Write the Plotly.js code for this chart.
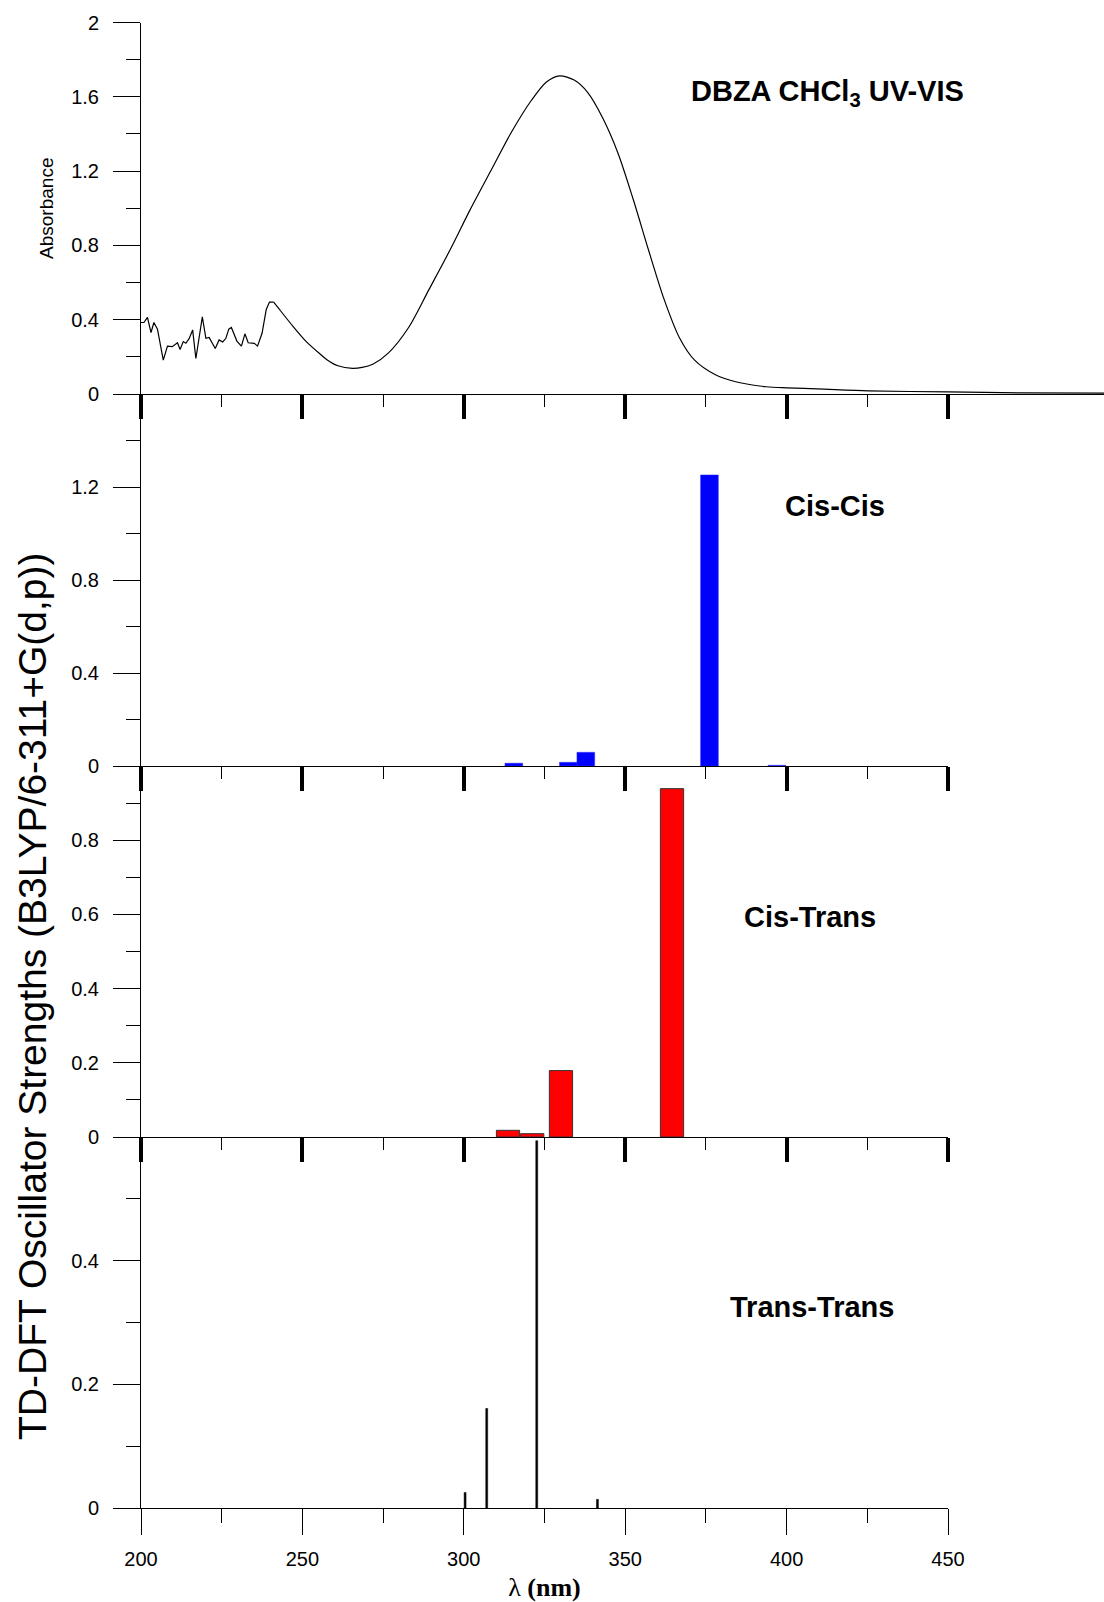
<!DOCTYPE html>
<html>
<head>
<meta charset="utf-8">
<script src="https://cdn.plot.ly/plotly-3.0.1.min.js"></script>
<style>html,body{margin:0;padding:0;background:#fff;}#chart{width:1104px;height:1602px;}</style>
</head>
<body>
<div id="chart"></div>
<script>
// UV-VIS absorbance spectrum (DBZA in CHCl3)
const uvWavelength = [200,200.9,202,203.1,204,205.1,206.9,208.2,209.7,211.3,212.1,213.1,213.9,214.9,216,217,219,220.1,221.1,223,224.2,225.3,226.3,227.2,228,229.7,231.1,232.2,233.2,235.1,236.1,237.5,238.8,239.8,241.1,242.9,247.1,251.2,255.3,257.6,261,265.5,268.5,271.8,276.6,282.9,289.2,295.6,301.9,308.2,314.6,320.9,325.6,329.7,334.2,338.3,343,347.8,352.5,357.3,362,366.8,371.5,377.8,384.2,393.7,400,409.5,425.3,450,472.8,498.4];
const uvAbsorbance = [0.385,0.385,0.413,0.331,0.385,0.349,0.182,0.258,0.255,0.276,0.24,0.282,0.273,0.298,0.345,0.191,0.415,0.3,0.305,0.245,0.291,0.28,0.3,0.349,0.358,0.285,0.258,0.324,0.276,0.273,0.258,0.327,0.455,0.495,0.495,0.455,0.364,0.282,0.218,0.185,0.152,0.138,0.143,0.16,0.22,0.358,0.562,0.771,0.99,1.196,1.405,1.58,1.68,1.713,1.69,1.625,1.487,1.295,1.047,0.771,0.512,0.303,0.182,0.105,0.066,0.039,0.033,0.028,0.017,0.011,0.006,0.005];

// TD-DFT oscillator strengths
const cisCisWavelength = [315.5,332.4,337.8,376.1,397];
const cisCisStrength   = [0.012,0.016,0.059,1.252,0.003];
const cisTransWavelength = [313.7,321.2,330.1,364.5];
const cisTransStrength   = [0.018,0.009,0.179,0.939];
const transTransWavelength = [300.4,307.1,322.6,341.4];
const transTransStrength   = [0.025,0.161,0.594,0.014];

// tick labels
const xTickVals = [200,250,300,350,400,450];
const xMinorVals = [225,275,325,375,425];
const absTickVals = [0,0.4,0.8,1.2,1.6,2];
const absTickText = ['0','0.4','0.8','1.2','1.6','2'];
const absMinorVals = [0.2,0.6,1.0,1.4,1.8];
const ccTickVals = [0,0.4,0.8,1.2];
const ccTickText = ['0','0.4','0.8','1.2'];
const ccMinorVals = [0.2,0.6,1.0,1.4];
const ctTickVals = [0,0.2,0.4,0.6,0.8];
const ctTickText = ['0','0.2','0.4','0.6','0.8'];
const ctMinorVals = [0.1,0.3,0.5,0.7,0.9];
const ttTickVals = [0,0.2,0.4];
const ttTickText = ['0','0.2','0.4'];
const ttMinorVals = [0.1,0.3,0.5];

const FONT = 'Liberation Sans, Arial, sans-serif';
const W = 1104, H = 1602;
const px = v => v / W;
const py = v => 1 - v / H;

// noisy short-wavelength part drawn as straight segments, the rest smoothed
const split = uvWavelength.indexOf(241.1);

const traces = [
  {x: uvWavelength.slice(0, split + 1), y: uvAbsorbance.slice(0, split + 1), type: 'scatter', mode: 'lines',
   line: {color: '#000', width: 1.2}, xaxis: 'x4', yaxis: 'y'},
  {x: uvWavelength.slice(split), y: uvAbsorbance.slice(split), type: 'scatter', mode: 'lines',
   line: {color: '#000', width: 1.2, shape: 'spline', smoothing: 0.8}, xaxis: 'x4', yaxis: 'y'},
  {x: cisCisWavelength, y: cisCisStrength, type: 'bar', width: 5.5,
   marker: {color: '#0000ff', line: {color: '#3030ff', width: 0.5}}, xaxis: 'x3', yaxis: 'y2'},
  {x: cisTransWavelength, y: cisTransStrength, type: 'bar', width: 7.2,
   marker: {color: '#ff0000', line: {color: '#333', width: 1}}, xaxis: 'x2', yaxis: 'y3'},
  {x: transTransWavelength, y: transTransStrength, type: 'bar', width: 0.6,
   marker: {color: '#000', line: {color: '#000', width: 0.5}}, xaxis: 'x', yaxis: 'y4'}
];

const xMid = {
  range: [200, 450], domain: [px(141), px(948)], showgrid: false, zeroline: false,
  showline: true, linecolor: '#000', linewidth: 1,
  tickmode: 'array', tickvals: xTickVals, ticks: 'outside', ticklen: 24, tickwidth: 4, tickcolor: '#000',
  showticklabels: false,
  minor: {tickmode: 'array', tickvals: xMinorVals, ticks: 'outside', ticklen: 12, tickwidth: 1, tickcolor: '#000'}
};

function yAx(domain, range, tv, tt, mv) {
  return {
    domain: domain, range: range, showgrid: false, zeroline: false,
    showline: true, linecolor: '#000', linewidth: 1,
    tickmode: 'array', tickvals: tv, ticktext: tt,
    ticks: 'outside', ticklen: 27, tickwidth: 1, tickcolor: '#000',
    tickfont: {family: FONT, size: 20, color: '#000'}, ticklabelstandoff: 10,
    minor: {tickmode: 'array', tickvals: mv, ticks: 'outside', ticklen: 14, tickwidth: 1, tickcolor: '#000'}
  };
}

const annFont = {family: FONT, size: 29, color: '#000'};

const layout = {
  width: W, height: H, margin: {l: 0, r: 0, t: 0, b: 0},
  paper_bgcolor: '#fff', plot_bgcolor: 'rgba(0,0,0,0)', showlegend: false,
  font: {family: FONT, color: '#000'},
  xaxis: {
    range: [200, 450], domain: [px(141), px(948)], anchor: 'y4', showgrid: false, zeroline: false,
    showline: true, linecolor: '#000', linewidth: 1,
    tickmode: 'array', tickvals: xTickVals, ticks: 'outside', ticklen: 26, tickwidth: 1, tickcolor: '#000',
    tickfont: {family: FONT, size: 20, color: '#000'}, ticklabelstandoff: 7,
    minor: {tickmode: 'array', tickvals: xMinorVals, ticks: 'outside', ticklen: 14, tickwidth: 1, tickcolor: '#000'},
    title: {text: 'λ <b>(nm)</b>', font: {family: 'Liberation Serif, Times New Roman, serif', size: 26, color: '#000'}, standoff: 9}
  },
  xaxis2: Object.assign({}, xMid, {anchor: 'y3'}),
  xaxis3: Object.assign({}, xMid, {anchor: 'y2'}),
  xaxis4: Object.assign({}, xMid, {anchor: 'y', domain: [px(141), 1], range: [200, 200 + (W - 141) / ((948 - 141) / 250)]}),
  yaxis: Object.assign(yAx([py(394), py(22.5)], [0, 2], absTickVals, absTickText, absMinorVals), {
    anchor: 'x4',
    title: {text: 'Absorbance', font: {family: FONT, size: 19, color: '#000'}, standoff: 12}
  }),
  yaxis2: Object.assign(yAx([py(766), py(394)], [0, 1.6], ccTickVals, ccTickText, ccMinorVals), {anchor: 'x3'}),
  yaxis3: Object.assign(yAx([py(1137), py(766)], [0, 1.0], ctTickVals, ctTickText, ctMinorVals), {anchor: 'x2'}),
  yaxis4: Object.assign(yAx([py(1508), py(1137)], [0, 0.6], ttTickVals, ttTickText, ttMinorVals), {anchor: 'x'}),
  annotations: [
    {text: 'TD-DFT Oscillator Strengths (B3LYP/6-311+G(d,p))', textangle: -90,
     xref: 'paper', yref: 'paper', x: px(33), y: py(996), xanchor: 'center', yanchor: 'middle',
     showarrow: false, font: {family: FONT, size: 39, color: '#000'}},
    {text: '<b>DBZA CHCl<sub>3</sub> UV-VIS</b>', xref: 'paper', yref: 'paper', x: px(827), y: py(93),
     xanchor: 'center', yanchor: 'middle', showarrow: false, font: annFont},
    {text: '<b>Cis-Cis</b>', xref: 'paper', yref: 'paper', x: px(835), y: py(506),
     xanchor: 'center', yanchor: 'middle', showarrow: false, font: annFont},
    {text: '<b>Cis-Trans</b>', xref: 'paper', yref: 'paper', x: px(810), y: py(917),
     xanchor: 'center', yanchor: 'middle', showarrow: false, font: annFont},
    {text: '<b>Trans-Trans</b>', xref: 'paper', yref: 'paper', x: px(812), y: py(1307),
     xanchor: 'center', yanchor: 'middle', showarrow: false, font: annFont}
  ]
};

Plotly.newPlot('chart', traces, layout, {displayModeBar: false, staticPlot: true});
</script>
</body>
</html>
